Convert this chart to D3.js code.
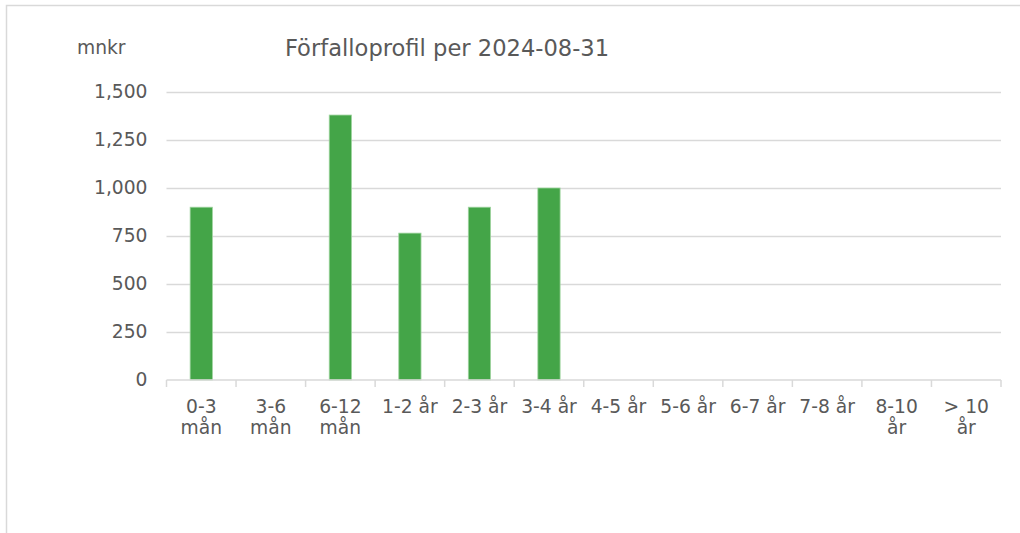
<!DOCTYPE html>
<html lang="sv">
<head>
    <meta charset="UTF-8">
    <title>Förfalloprofil</title>
    <style>
        body { margin: 0; background: #fff; }
        svg { display: block; font-family: "DejaVu Sans", Verdana, sans-serif; }
    </style>
</head>
<body>
    <div id="chart"></div>
    <script src="https://cdn.jsdelivr.net/npm/d3@7"></script>
    <script>
        const title = "Förfalloprofil per 2024-08-31";
        const unitLabel = "mnkr";
        const categories = ["0-3 mån", "3-6 mån", "6-12 mån", "1-2 år", "2-3 år", "3-4 år",
                            "4-5 år", "5-6 år", "6-7 år", "7-8 år", "8-10 år", "> 10 år"];
        const values = [900, 0, 1380, 765, 900, 1000, 0, 0, 0, 0, 0, 0];
        const yTicks = [0, 250, 500, 750, 1000, 1250, 1500];

        const width = 1020;
        const height = 533;
        const marginLeft = 166.5;
        const marginRight = 19;
        const marginTop = 92;
        const plotBottom = 380;
        const textColor = "#595959";
        const lineColor = "#d9d9d9";

        const svg = d3.select("#chart").append("svg")
            .attr("width", width)
            .attr("height", height);

        // outer frame (only top and left edges are in view)
        svg.append("path")
            .attr("d", `M6.5,${height} V5.5 H${width}`)
            .attr("fill", "none")
            .attr("stroke", lineColor)
            .attr("stroke-width", 1.5);

        const x = d3.scaleBand()
            .domain(categories)
            .range([marginLeft, width - marginRight])
            .padding(0);

        const y = d3.scaleLinear()
            .domain([0, 1500])
            .range([plotBottom, marginTop]);

        // y axis with gridlines
        svg.append("g")
            .attr("transform", `translate(${marginLeft},0)`)
            .call(d3.axisLeft(y)
                .tickValues(yTicks)
                .tickFormat(d3.format(","))
                .tickSize(-(width - marginRight - marginLeft))
                .tickPadding(19))
            .call(g => g.select(".domain").remove())
            .call(g => g.selectAll(".tick line")
                .attr("stroke", lineColor)
                .attr("stroke-width", 1.3)
                .attr("stroke-opacity", d => d === 0 ? 0 : 1))
            .call(g => g.selectAll(".tick text")
                .attr("fill", textColor)
                .attr("font-size", "18.7px")
                .attr("font-family", "DejaVu Sans, Verdana, sans-serif"));

        // bars
        const barW = x.bandwidth() * 0.32;
        svg.append("g")
            .selectAll("rect")
            .data(values)
            .join("rect")
            .attr("x", (d, i) => x(categories[i]) + (x.bandwidth() - barW) / 2)
            .attr("y", d => y(d))
            .attr("width", barW)
            .attr("height", d => y(0) - y(d))
            .attr("fill", "#44a548")
            .attr("stroke", "#9fd49f")
            .attr("stroke-width", d => d > 0 ? 0.8 : 0);

        // x axis
        const xAxis = svg.append("g")
            .attr("transform", `translate(0,${plotBottom})`);

        xAxis.append("line")
            .attr("x1", marginLeft)
            .attr("x2", width - marginRight)
            .attr("stroke", lineColor)
            .attr("stroke-width", 1.5);

        xAxis.selectAll(".boundary")
            .data(d3.range(categories.length + 1))
            .join("line")
            .attr("class", "boundary")
            .attr("x1", i => i < categories.length ? x(categories[i]) : x.range()[1])
            .attr("x2", i => i < categories.length ? x(categories[i]) : x.range()[1])
            .attr("y1", 0)
            .attr("y2", 7)
            .attr("stroke", lineColor)
            .attr("stroke-width", 1.5);

        const labels = xAxis.selectAll(".label")
            .data(categories)
            .join("text")
            .attr("class", "label")
            .attr("x", d => x(d) + x.bandwidth() / 2)
            .attr("y", 33)
            .attr("text-anchor", "middle")
            .attr("fill", textColor)
            .attr("font-size", "18.7px")
            .text(d => d);

        // wrap labels that do not fit in their slot
        labels.each(function(d) {
            const t = d3.select(this);
            if (this.getComputedTextLength() > x.bandwidth() * 0.86) {
                const cut = d.lastIndexOf(" ");
                const cx = x(d) + x.bandwidth() / 2;
                t.text(null);
                t.append("tspan").attr("x", cx).text(d.slice(0, cut));
                t.append("tspan").attr("x", cx).attr("dy", 20.5).text(d.slice(cut + 1));
            }
        });

        // unit label and title
        svg.append("text")
            .attr("x", 77)
            .attr("y", 54)
            .attr("fill", textColor)
            .attr("font-size", "18.7px")
            .text(unitLabel);

        svg.append("text")
            .attr("x", 447)
            .attr("y", 56)
            .attr("text-anchor", "middle")
            .attr("fill", textColor)
            .attr("font-size", "22.6px")
            .text(title);
    </script>
</body>
</html>
